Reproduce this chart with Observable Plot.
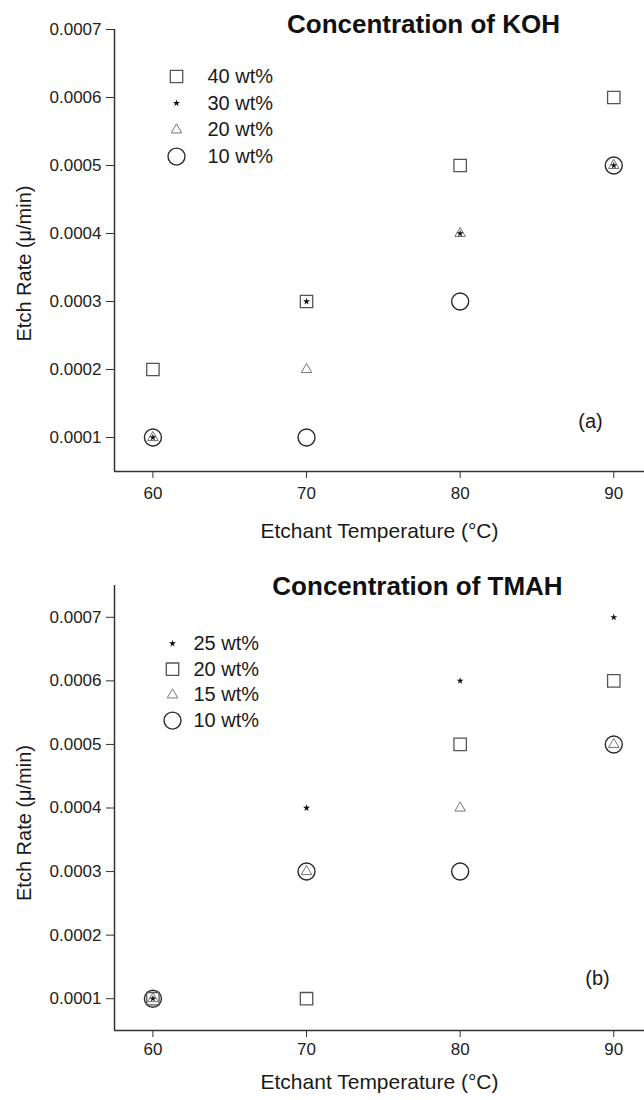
<!DOCTYPE html>
<html><head><meta charset="utf-8">
<script src="https://cdn.jsdelivr.net/npm/d3@7"></script>
<script src="https://cdn.jsdelivr.net/npm/@observablehq/plot@0.6"></script>
<style>
html,body{margin:0;padding:0;background:#fff;}
#wrap{width:644px;}
#wrap svg{display:block;}
</style></head><body><div id="wrap"></div>
<script>
// ---- data ----
const temps = [60, 70, 80, 90];
const xTicks = [60, 70, 80, 90];
const yTicks = [0.0001, 0.0002, 0.0003, 0.0004, 0.0005, 0.0006, 0.0007];
const xLabel = "Etchant Temperature (°C)";
const yLabel = "Etch Rate (μ/min)";

const kohTitle = "Concentration of KOH";
const kohTag = "(a)";
const kohLabels = ["40 wt%", "30 wt%", "20 wt%", "10 wt%"];
const kohSymbols = ["square", "star", "triangle", "circle"];
const koh40 = [0.0002, 0.0003, 0.0005, 0.0006];
const koh30 = [0.0001, 0.0003, 0.0004, 0.0005];
const koh20 = [0.0001, 0.0002, 0.0004, 0.0005];
const koh10 = [0.0001, 0.0001, 0.0003, 0.0005];

const tmahTitle = "Concentration of TMAH";
const tmahTag = "(b)";
const tmahLabels = ["25 wt%", "20 wt%", "15 wt%", "10 wt%"];
const tmahSymbols = ["star", "square", "triangle", "circle"];
const tmah25 = [0.0001, 0.0004, 0.0006, 0.0007];
const tmah20 = [0.0001, 0.0001, 0.0005, 0.0006];
const tmah15 = [0.0001, 0.0003, 0.0004, 0.0005];
const tmah10 = [0.0001, 0.0003, 0.0003, 0.0005];

// ---- styles ----
const FONT = "'Liberation Sans', Arial, Helvetica, sans-serif";
const symStyle = {
  circle:   {r: 8.5, stroke: "#2a2a2a", strokeWidth: 1.4, fill: "none"},
  square:   {r: 7,   stroke: "#555", strokeWidth: 1.3, fill: "none"},
  triangle: {r: 3.9, stroke: "#777", strokeWidth: 1,   fill: "none"},
  star:     {r: 2.2, stroke: "none", fill: "#111"}
};
const drawOrder = ["circle", "square", "triangle", "star"];

function makeChart(cfg) {
  const {title, tag, labels, symbols, values, yDomain, height, marginTop, marginBottom,
         titleDx, titleDy, xLabelDy, yLabelDy, tagDx, tagDy, tickPadX,
         legSymDx, legTextDx, legDy0, legStep} = cfg;
  const xDomain = [57.5, 92];
  const marks = [];
  marks.push(Plot.ruleX([xDomain[0]], {stroke: "#333", strokeWidth: 1.5}));
  marks.push(Plot.ruleY([yDomain[0]], {stroke: "#333", strokeWidth: 1.5}));
  marks.push(Plot.axisY(yTicks, {tickFormat: d3.format(".4f"), tickSize: 8, tickPadding: 5, fontSize: 17, label: null, stroke: "#333"}));
  marks.push(Plot.axisX(xTicks, {tickSize: 7, tickPadding: tickPadX, fontSize: 17, label: null, stroke: "#333"}));
  for (const s of drawOrder) {
    const i = symbols.indexOf(s);
    const rows = temps.map((t, j) => ({t, v: values[i][j]}));
    marks.push(Plot.dot(rows, {x: "t", y: "v", symbol: s, ...symStyle[s]}));
  }
  labels.forEach((lab, i) => {
    const s = symbols[i];
    marks.push(Plot.dot([lab], {frameAnchor: "top-left", dx: legSymDx, dy: legDy0 + i * legStep, symbol: s, ...symStyle[s]}));
    marks.push(Plot.text([lab], {frameAnchor: "top-left", dx: legTextDx, dy: legDy0 + i * legStep, textAnchor: "start", lineAnchor: "middle", fontSize: 20, fill: "#1a1a1a"}));
  });
  marks.push(Plot.text([title], {frameAnchor: "top", dx: titleDx, dy: titleDy, lineAnchor: "middle", fontSize: 26, fontWeight: "bold", fill: "#111"}));
  marks.push(Plot.text([xLabel], {frameAnchor: "bottom", dy: xLabelDy, lineAnchor: "middle", fontSize: 21, fill: "#1a1a1a"}));
  marks.push(Plot.text([yLabel], {frameAnchor: "left", rotate: -90, dx: -90, dy: yLabelDy, textAnchor: "middle", lineAnchor: "middle", fontSize: 20, fill: "#1a1a1a"}));
  marks.push(Plot.text([tag], {frameAnchor: "bottom-right", dx: tagDx, dy: tagDy, textAnchor: "middle", lineAnchor: "middle", fontSize: 20, fill: "#1a1a1a"}));

  return Plot.plot({
    width: 644, height, marginLeft: 114, marginRight: 0, marginTop, marginBottom,
    x: {domain: xDomain},
    y: {domain: yDomain},
    style: {fontFamily: FONT, color: "#222", background: "white", overflow: "visible"},
    marks
  });
}

const chartKOH = makeChart({
  title: kohTitle, tag: kohTag, labels: kohLabels, symbols: kohSymbols,
  values: [koh40, koh30, koh20, koh10],
  yDomain: [0.00005, 0.0007], height: 548, marginTop: 29, marginBottom: 77,
  titleDx: 44, titleDy: -5, xLabelDy: 60, yLabelDy: 13, tagDx: -54, tagDy: -50, tickPadX: 8,
  legSymDx: 62, legTextDx: 93, legDy0: 47, legStep: 26.7
});
const chartTMAH = makeChart({
  title: tmahTitle, tag: tmahTag, labels: tmahLabels, symbols: tmahSymbols,
  values: [tmah25, tmah20, tmah15, tmah10],
  yDomain: [0.00005, 0.00075], height: 552, marginTop: 37, marginBottom: 70,
  titleDx: 38, titleDy: 1, xLabelDy: 52, yLabelDy: 15, tagDx: -47, tagDy: -52, tickPadX: 5,
  legSymDx: 58, legTextDx: 79, legDy0: 58, legStep: 25.7
});
document.getElementById("wrap").append(chartKOH, chartTMAH);
</script></body></html>
